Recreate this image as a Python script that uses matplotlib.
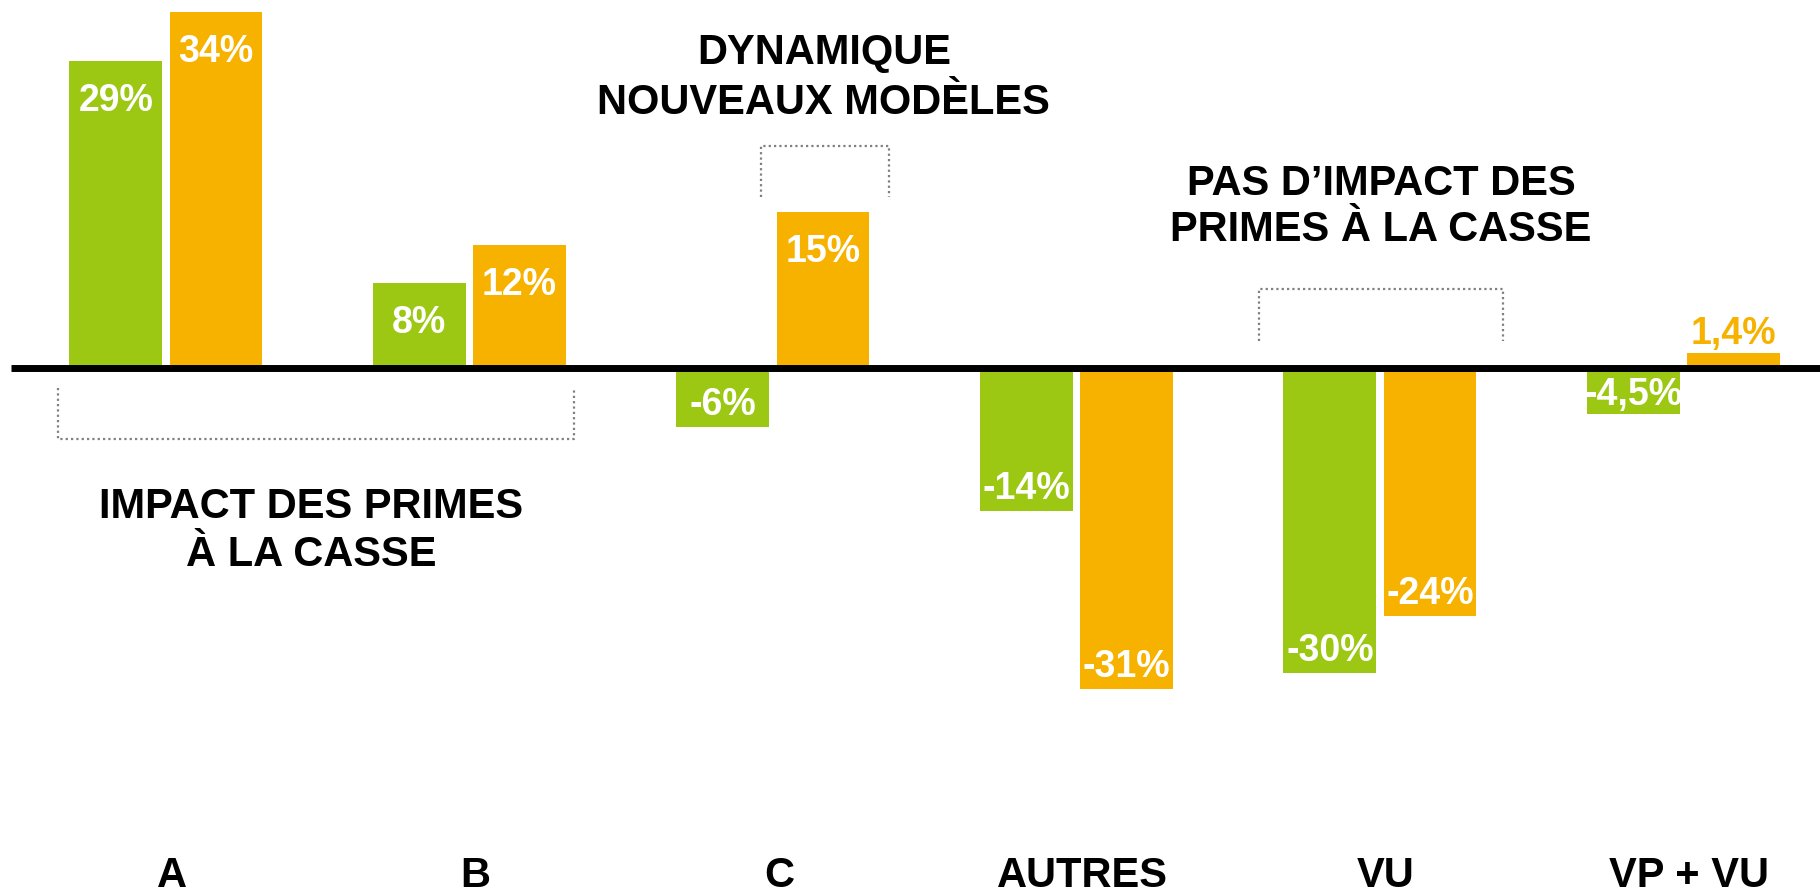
import matplotlib
matplotlib.use('Agg')
import matplotlib.pyplot as plt

# fonts: Arial-like bold everywhere
plt.rcParams['font.family'] = ['Liberation Sans', 'DejaVu Sans']
plt.rcParams['font.weight'] = 'bold'

# data (bar heights, labels as printed)
categories = ['A', 'B', 'C', 'AUTRES', 'VU', 'VP + VU']
green_values = [29.8, 8.2, -5.8, -13.9, -29.7, -4.5]
orange_values = [34.5, 11.9, 15.1, -31.2, -24.1, 1.4]
green_labels = ['29%', '8%', '-6%', '-14%', '-30%', '-4,5%']
orange_labels = ['34%', '12%', '15%', '-31%', '-24%', '1,4%']

GREEN = '#9CC813'
ORANGE = '#F7B200'
GREY = '#808080'

# layout (axes fill the whole figure, 10.3 px per percent)
PX_PER_PCT = 10.3
BAR_W = 0.306
OFFSET = 0.165


def bar_label(ax, x, v, text, color):
    '''white label inside the bar end, or coloured label above a tiny bar'''
    length = abs(v) * PX_PER_PCT
    if length < 30:
        ax.annotate(text, (x, v), xytext=(0, 10), textcoords='offset pixels',
                    ha='center', va='baseline', color=color, fontsize=27)
        return
    if v > 0:
        dy = -36 - 13
    else:
        dy = min(26, length / 2) - 13
    ax.annotate(text, (x, v), xytext=(0, dy), textcoords='offset pixels',
                ha='center', va='baseline', color='white', fontsize=27)


def bracket(ax, x0, x1, y_edge, y_tip):
    '''dotted square bracket: horizontal at y_edge, legs going to y_tip'''
    ax.plot([x0, x0, x1, x1], [y_tip, y_edge, y_edge, y_tip],
            color=GREY, lw=1.6, ls=(0, (1, 1.4)), solid_capstyle='butt')


def main():
    fig = plt.figure(figsize=(18.2, 8.95), dpi=100)
    ax = fig.add_axes([0, 0, 1, 1])
    ax.axis('off')
    ax.set_xlim(-0.5466, 5.450)
    ax.set_ylim(-(895 - 368.5) / PX_PER_PCT, 368.5 / PX_PER_PCT)

    xs = list(range(len(categories)))
    ax.bar([x - OFFSET for x in xs], green_values, BAR_W, color=GREEN, zorder=2)
    ax.bar([x + OFFSET for x in xs], orange_values, BAR_W, color=ORANGE, zorder=2)

    for x, v, t in zip(xs, green_values, green_labels):
        bar_label(ax, x - OFFSET, v, t, GREEN)
    for x, v, t in zip(xs, orange_values, orange_labels):
        bar_label(ax, x + OFFSET, v, t, ORANGE)

    # zero line
    ax.plot([-0.510, 5.46], [0, 0], color='black', lw=5.0, zorder=3,
            solid_capstyle='butt')

    # category names along the bottom
    for x, c in zip(xs, categories):
        ax.text(x + 0.02, -50.3, c, ha='center', va='baseline', fontsize=30)

    # brackets and comments
    bracket(ax, -0.356, 1.346, -6.94, -2.0)
    bracket(ax, 1.961, 2.383, 21.5, 16.55)
    bracket(ax, 3.602, 4.405, 7.62, 2.57)

    notes = [
        (2.168, 29.59, 'DYNAMIQUE'),
        (2.168, 24.74, 'NOUVEAUX MODÈLES'),
        (4.004, 16.84, 'PAS D’IMPACT DES'),
        (4.004, 12.38, 'PRIMES À LA CASSE'),
        (0.478, -14.48, 'IMPACT DES PRIMES'),
        (0.478, -19.17, 'À LA CASSE'),
    ]
    for x, y, t in notes:
        ax.text(x, y, t, ha='center', va='baseline', fontsize=30)

    fig.savefig('out.png', dpi=100)


if __name__ == '__main__':
    main()
